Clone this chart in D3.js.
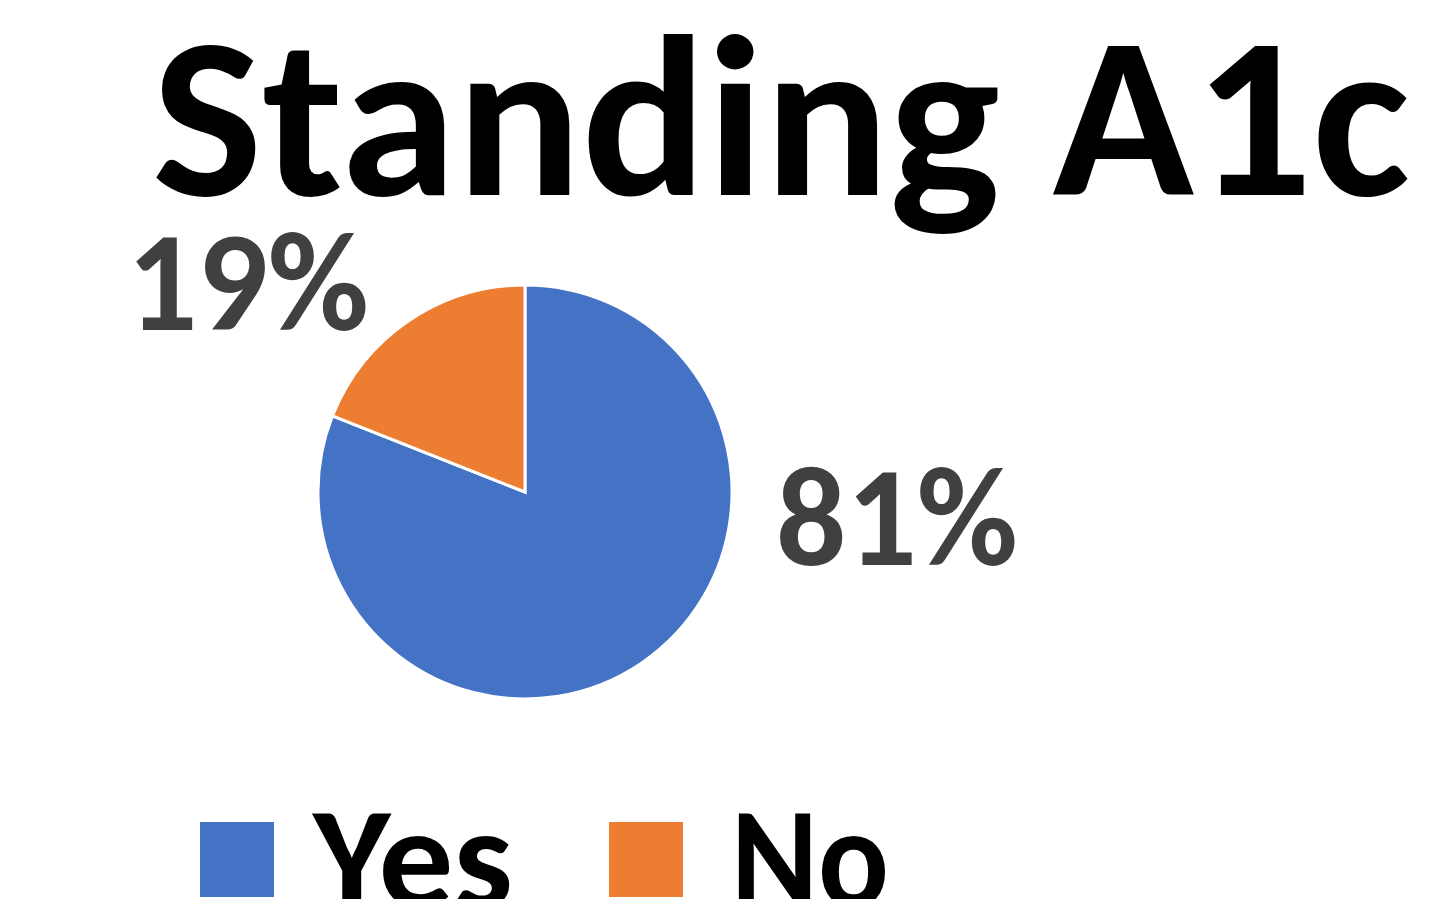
<!DOCTYPE html>
<html>
<head>
<meta charset="utf-8">
<script src="https://cdn.jsdelivr.net/npm/d3@7"></script>
<style>
  html, body { margin: 0; padding: 0; background: #fff; overflow: hidden; }
  svg { display: block; }
  text { font-family: Calibri, Carlito, "Open Sans", "Noto Sans", sans-serif; font-weight: bold; }
</style>
</head>
<body>
<div id="chart"></div>
<script>
const title = 'Standing A1c';
const categories = ['Yes', 'No'];
const values = [81, 19];
const colors = ['#4472C4', '#ED7D31'];

const width = 1440, height = 899;
const cx = 525, cy = 492, radius = 207;

const svg = d3.select('#chart').append('svg')
  .attr('width', width)
  .attr('height', height);

// title
svg.append('text')
  .attr('x', 152)
  .attr('y', 195)
  .attr('font-size', 230)
  .attr('textLength', 1258)
  .attr('lengthAdjust', 'spacingAndGlyphs')
  .attr('fill', '#000')
  .text(title);

const pie = d3.pie().sort(null).value(d => d.value);
const arc = d3.arc().innerRadius(0).outerRadius(radius);
const data = categories.map((c, i) => ({ name: c, value: values[i], color: colors[i] }));

const g = svg.append('g').attr('transform', `translate(${cx},${cy})`);

g.selectAll('path')
  .data(pie(data))
  .join('path')
  .attr('d', arc)
  .attr('fill', d => d.data.color)
  .attr('stroke', '#fff')
  .attr('stroke-width', 3)
  .attr('stroke-linejoin', 'miter');

// data labels (best-fit placement, relative to centre)
const labelOffset = { Yes: [372, 73], No: [-277, -162] };
const total = d3.sum(values);
g.selectAll('text.lbl')
  .data(pie(data))
  .join('text')
  .attr('class', 'lbl')
  .attr('x', d => labelOffset[d.data.name][0])
  .attr('y', d => labelOffset[d.data.name][1])
  .attr('text-anchor', 'middle')
  .attr('font-size', 142)
  .attr('textLength', 242)
  .attr('lengthAdjust', 'spacingAndGlyphs')
  .attr('fill', '#404040')
  .text(d => Math.round(d.data.value / total * 100) + '%');

// legend
const legendX = d3.scaleOrdinal().domain(categories).range([200, 609]);
const legend = svg.append('g');
const items = legend.selectAll('g')
  .data(data)
  .join('g')
  .attr('transform', d => `translate(${legendX(d.name)},822)`);

items.append('rect')
  .attr('width', 74)
  .attr('height', 75)
  .attr('fill', d => d.color);

items.append('text')
  .attr('x', d => d.name === 'Yes' ? 113 : 122)
  .attr('y', 85)
  .attr('font-size', 144)
  .attr('textLength', d => d.name === 'Yes' ? 200 : 158)
  .attr('lengthAdjust', 'spacingAndGlyphs')
  .attr('fill', '#000')
  .text(d => d.name);
</script>
</body>
</html>
